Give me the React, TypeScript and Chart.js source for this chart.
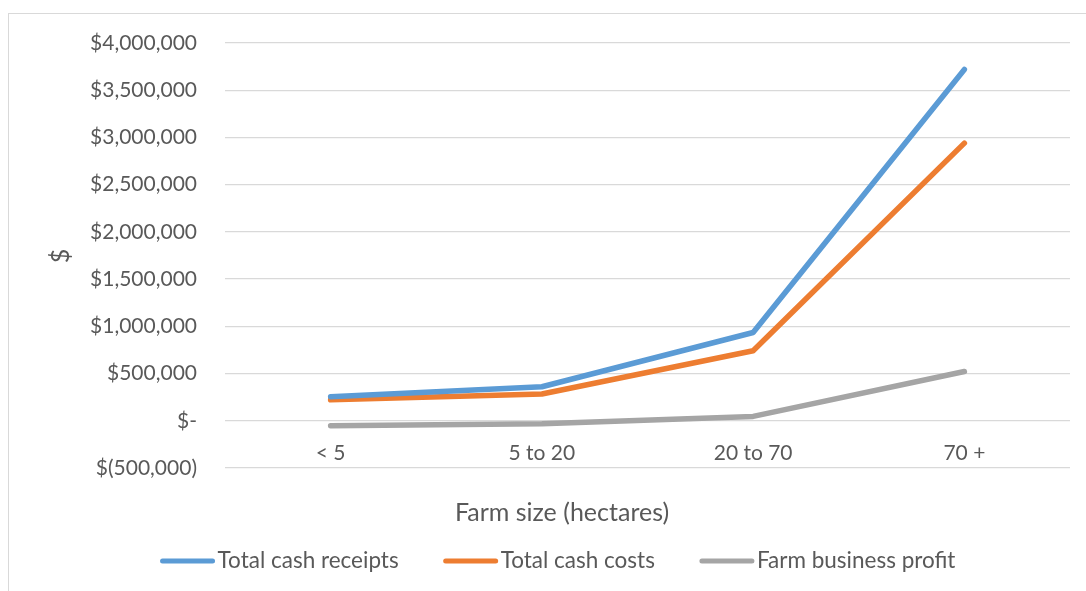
import React, { useEffect, useRef } from "react";
import { Chart, registerables } from "chart.js";

Chart.register(...registerables);

const categories = ["< 5", "5 to 20", "20 to 70", "70 +"];
const receipts = [255000, 360000, 935000, 3720000];
const costs = [222000, 283000, 741000, 2940000];
const profit = [-53000, -32000, 46000, 522000];
const seriesNames = ["Total cash receipts", "Total cash costs", "Farm business profit"];
const seriesColors = ["#5B9BD5", "#ED7D31", "#A5A5A5"];
const yMin = -500000;
const yMax = 4000000;
const yStep = 500000;
const xTitle = "Farm size (hectares)";
const yTitle = "$";

const FONT = "Lato, 'Open Sans', sans-serif";
const TEXT = "#595959";

function fmt(v: number): string {
  if (v === 0) return "$-";
  const s = Math.abs(v).toLocaleString("en-US");
  return v < 0 ? "$(" + s + ")" : "$" + s;
}

const decor = {
  id: "decor",
  beforeDraw(chart: any) {
    const ctx = chart.ctx;
    ctx.save();
    ctx.strokeStyle = "#D9D9D9";
    ctx.lineWidth = 1;
    ctx.strokeRect(8.5, 13.5, 1200, 700);
    ctx.restore();
  },
  afterDraw(chart: any) {
    const ctx = chart.ctx;
    const cx = 558;
    ctx.save();
    ctx.fillStyle = TEXT;
    // y title
    ctx.font = "25px " + FONT;
    ctx.save();
    ctx.translate(61, 256);
    ctx.rotate(-Math.PI / 2);
    ctx.textAlign = "center";
    ctx.textBaseline = "middle";
    ctx.fillText(yTitle, 0, 0);
    ctx.restore();
    // x title
    ctx.textAlign = "center";
    ctx.textBaseline = "middle";
    ctx.fillText(xTitle, cx + 4, 513);
    // legend
    ctx.font = "22.5px " + FONT;
    const lineLen = 54;
    const gapText = 3;
    const gapItem = 45;
    const widths = seriesNames.map((n) => lineLen + gapText + ctx.measureText(n).width);
    const total = widths.reduce((a, b) => a + b, 0) + gapItem * (widths.length - 1);
    let x = cx - total / 2;
    const y = 561;
    seriesNames.forEach((n, i) => {
      ctx.strokeStyle = seriesColors[i];
      ctx.lineWidth = 5;
      ctx.lineCap = "round";
      ctx.beginPath();
      ctx.moveTo(x + 2, y);
      ctx.lineTo(x + lineLen - 2, y);
      ctx.stroke();
      ctx.textAlign = "left";
      ctx.fillStyle = TEXT;
      ctx.fillText(n, x + lineLen + gapText, y);
      x += widths[i] + gapItem;
    });
    ctx.restore();
  },
};

export default function App() {
  const ref = useRef<HTMLCanvasElement | null>(null);
  useEffect(() => {
    if (!ref.current) return;
    const mk = (label: string, data: number[], color: string) => ({
      label,
      data,
      borderColor: color,
      backgroundColor: color,
      borderWidth: 5.5,
      pointRadius: 0,
      pointHoverRadius: 0,
      tension: 0,
      borderCapStyle: "round" as const,
      borderJoinStyle: "round" as const,
    });
    const chart = new Chart(ref.current, {
      type: "line",
      data: {
        labels: categories,
        datasets: [
          mk(seriesNames[0], receipts, seriesColors[0]),
          mk(seriesNames[1], costs, seriesColors[1]),
          mk(seriesNames[2], profit, seriesColors[2]),
        ],
      },
      options: {
        animation: false,
        responsive: false,
        maintainAspectRatio: false,
        layout: { padding: { left: 0, top: 43, right: 16, bottom: 123 } },
        plugins: { legend: { display: false }, tooltip: { enabled: false } },
        scales: {
          x: {
            position: { y: 0 } as any,
            offset: true,
            grid: { display: false, drawTicks: false },
            border: { display: false },
            ticks: {
              color: TEXT,
              font: { family: FONT, size: 21 },
              padding: 20,
              maxRotation: 0,
            },
          },
          y: {
            min: yMin,
            max: yMax,
            grid: { color: "#D9D9D9", lineWidth: 1.3, drawTicks: false },
            border: { display: false },
            ticks: {
              stepSize: yStep,
              color: TEXT,
              font: { family: FONT, size: 21 },
              padding: 28,
              callback: (v: any) => fmt(Number(v)),
            },
            afterFit: (s: any) => {
              s.width = 225;
            },
          },
        },
      },
      plugins: [decor],
    });
    return () => chart.destroy();
  }, []);
  return (
    <div style={{ position: "fixed", left: 0, top: 0, width: 1086, height: 591, overflow: "hidden", background: "#fff" }}>
      <canvas ref={ref} width={1086} height={591} style={{ display: "block" }} />
    </div>
  );
}
